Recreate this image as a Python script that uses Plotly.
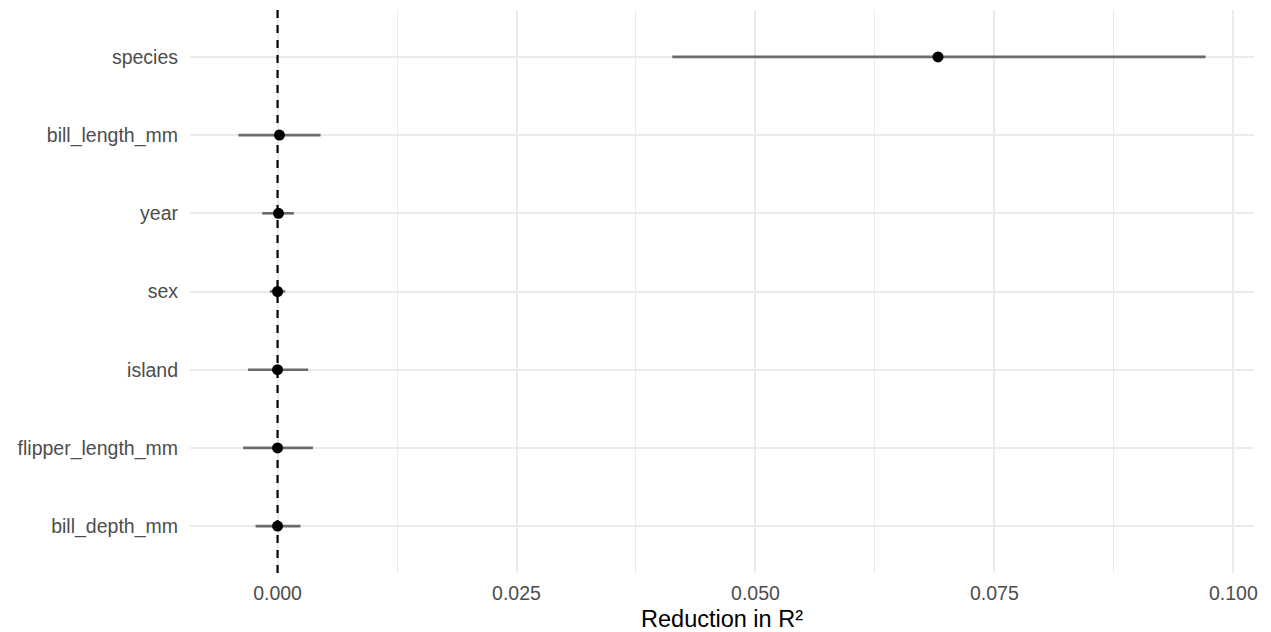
import plotly.graph_objects as go

# Data (bottom to top order as displayed)
variables = ["bill_depth_mm", "flipper_length_mm", "island", "sex", "year", "bill_length_mm", "species"]
estimate = [0.0000, 0.0000, 0.0000, 0.0000, 0.0001, 0.0002, 0.0691]
lower = [-0.0023, -0.0036, -0.0031, -0.0008, -0.0016, -0.0041, 0.0413]
upper = [0.0024, 0.0037, 0.0032, 0.0008, 0.0017, 0.0045, 0.0971]

xticks = [0.0, 0.025, 0.05, 0.075, 0.1]
xticklabels = ["0.000", "0.025", "0.050", "0.075", "0.100"]

ypos = list(range(1, len(variables) + 1))

# build interval segments
seg_x, seg_y = [], []
for lo, hi, y in zip(lower, upper, ypos):
    seg_x += [lo, hi, None]
    seg_y += [y, y, None]

fig = go.Figure()
fig.add_trace(go.Scatter(
    x=seg_x, y=seg_y, mode="lines",
    line=dict(color="#6b6b6b", width=2.6),
    hoverinfo="skip", showlegend=False,
))
fig.add_trace(go.Scatter(
    x=estimate, y=ypos, mode="markers",
    marker=dict(color="black", size=11, line=dict(width=0)),
    showlegend=False,
))
fig.add_vline(x=0, line=dict(color="black", width=2.2, dash="8px,7px"), layer="above")

fig.update_layout(
    width=1271, height=632,
    margin=dict(l=190, r=17, t=10, b=59),
    paper_bgcolor="white", plot_bgcolor="white",
    font=dict(family="Liberation Sans, Arial, sans-serif"),
    xaxis=dict(
        range=[-0.00916, 0.10216],
        tickvals=xticks, ticktext=xticklabels,
        showgrid=True, gridcolor="#EBEBEB", gridwidth=2,
        minor=dict(dtick=0.0125, tick0=0, showgrid=True, gridcolor="#EBEBEB", gridwidth=1),
        zeroline=False, showline=False, ticks="",
        tickfont=dict(size=19.5, color="#4D4D4D"),
        ticklabelstandoff=6,
        title=dict(text="Reduction in R²", font=dict(size=23.5, color="black"), standoff=8),
        automargin=False,
    ),
    yaxis=dict(
        range=[0.4, 7.6],
        tickvals=ypos, ticktext=variables,
        showgrid=True, gridcolor="#EBEBEB", gridwidth=2,
        zeroline=False, showline=False, ticks="",
        tickfont=dict(size=19.5, color="#4D4D4D"),
        ticklabelstandoff=11,
        automargin=False,
    ),
)

fig.write_html("out.html")
